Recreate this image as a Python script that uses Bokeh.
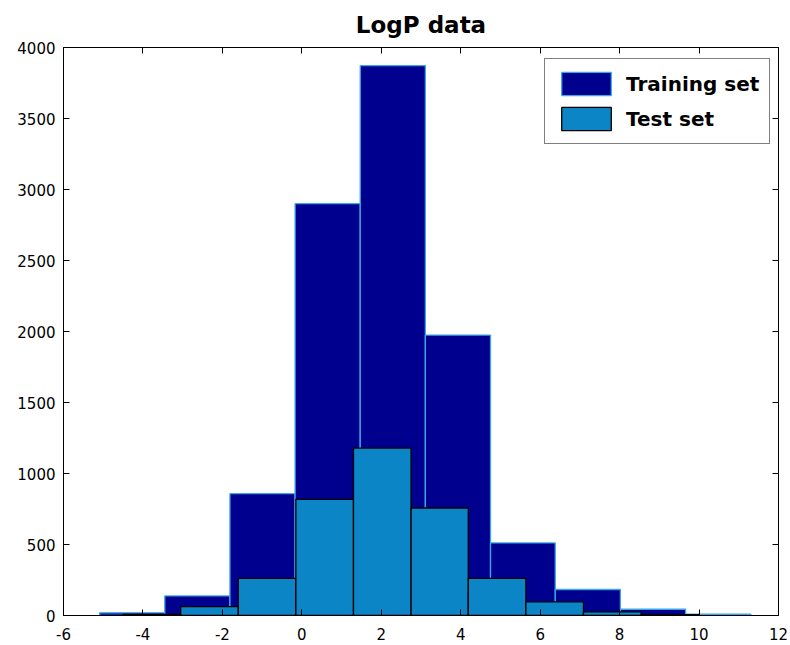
from bokeh.plotting import figure
from bokeh.models import LinearAxis, Legend, LegendItem, FixedTicker, Range1d, CustomJSTickFormatter
from bokeh.embed import file_html
from bokeh.resources import INLINE

# Histogram bin edges and counts
training_edges = [-5.09, -3.45, -1.81, -0.17, 1.47, 3.11, 4.75, 6.38, 8.02, 9.66, 11.30]
training_counts = [19, 138, 858, 2900, 3873, 1975, 511, 183, 44, 9]
test_edges = [-4.50, -3.05, -1.60, -0.15, 1.30, 2.75, 4.19, 5.64, 7.09, 8.54, 9.99]
test_counts = [8, 63, 262, 818, 1179, 757, 262, 96, 26, 6]
x_ticks = [-6, -4, -2, 0, 2, 4, 6, 8, 10, 12]
y_ticks = [0, 500, 1000, 1500, 2000, 2500, 3000, 3500, 4000]
series_names = ["Training set", "Test set"]
title_text = "LogP data"

FONT = "DejaVu Sans"

p = figure(width=790, height=645, output_backend="svg", toolbar_location=None,
           x_range=Range1d(-6, 12), y_range=Range1d(0, 4000),
           min_border_left=63, min_border_right=12, min_border_top=46, min_border_bottom=30)
p.title.text = title_text
p.title.align = "center"
p.title.text_font = FONT
p.title.text_font_size = "23px"
p.title.text_font_style = "bold"
p.title.text_color = "black"
p.title.offset = 0
p.title.standoff = 19

p.xgrid.visible = False
p.ygrid.visible = False
p.outline_line_color = "black"
p.outline_line_width = 1
p.outline_line_alpha = 1

tr = p.quad(left=training_edges[:-1], right=training_edges[1:], bottom=0, top=training_counts,
            fill_color="#00008F", line_color="#3FA6E6", line_width=1.3)
te = p.quad(left=test_edges[:-1], right=test_edges[1:], bottom=0, top=test_counts,
            fill_color="#0B85C6", line_color="black", line_width=1.3)

plain = CustomJSTickFormatter(code="return tick.toString();")
for ax in p.xaxis:
    ax.ticker = FixedTicker(ticks=x_ticks)
    ax.major_label_standoff = 12
for ax in p.yaxis:
    ax.ticker = FixedTicker(ticks=y_ticks)
    ax.major_label_standoff = 8

for ax in list(p.xaxis) + list(p.yaxis):
    ax.formatter = plain
    ax.major_tick_in = 6
    ax.major_tick_out = 0
    ax.minor_tick_in = 0
    ax.minor_tick_out = 0
    ax.axis_line_color = "black"
    ax.major_tick_line_color = "black"
    ax.major_label_text_font = FONT
    ax.major_label_text_font_size = "15px"
    ax.major_label_text_color = "black"

blank = CustomJSTickFormatter(code="return '';")
top_ax = LinearAxis(ticker=FixedTicker(ticks=x_ticks), formatter=blank, major_tick_in=6, major_tick_out=0,
                    minor_tick_in=0, minor_tick_out=0, major_label_standoff=0,
                    axis_line_color="black", major_tick_line_color="black")
right_ax = LinearAxis(ticker=FixedTicker(ticks=y_ticks), formatter=blank, major_tick_in=6, major_tick_out=0,
                      minor_tick_in=0, minor_tick_out=0, major_label_standoff=0,
                      axis_line_color="black", major_tick_line_color="black")
p.add_layout(top_ax, "above")
p.add_layout(right_ax, "right")

legend = Legend(items=[LegendItem(label=series_names[0], renderers=[tr]),
                       LegendItem(label=series_names[1], renderers=[te])],
                location=(481, 471))
legend.label_text_font = FONT
legend.label_text_font_size = "20px"
legend.label_text_font_style = "bold"
legend.label_text_color = "black"
legend.glyph_width = 62
legend.glyph_height = 29
legend.label_height = 29
legend.label_standoff = 9
legend.spacing = 6
legend.padding = 10
legend.margin = 0
legend.border_line_color = "black"
legend.border_line_width = 1
legend.background_fill_color = "white"
legend.background_fill_alpha = 1
p.add_layout(legend, "center")

open("out.html", "w").write(file_html(p, INLINE))
